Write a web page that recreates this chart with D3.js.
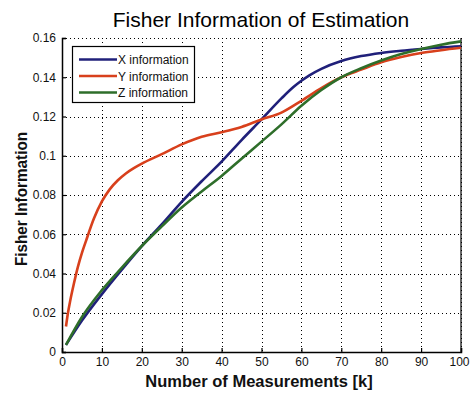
<!DOCTYPE html>
<html>
<head>
<meta charset="utf-8">
<script src="https://cdn.jsdelivr.net/npm/d3@7"></script>
<style>
  body { margin: 0; background: #fff; }
  text { font-family: "Liberation Sans", Arial, sans-serif; }
</style>
</head>
<body>
<svg id="chart" width="470" height="393"></svg>
<script>
// measurements k
var kX = [1, 5, 10, 15, 20, 25, 30, 35, 40, 45, 50, 55, 58, 60, 62, 65, 70, 75, 80, 85, 90, 95, 100];
var xInfo = [0.0036, 0.016, 0.0295, 0.042, 0.054, 0.065, 0.0765, 0.087, 0.097, 0.108, 0.1185, 0.1292, 0.135, 0.1382, 0.141, 0.1443, 0.1483, 0.1508, 0.1524, 0.1535, 0.1544, 0.1552, 0.1558];

var kY = [1, 1.5, 2, 3, 4, 5, 6, 8, 10, 12, 14, 16, 18, 20, 25, 30, 35, 40, 45, 50, 55, 60, 65, 70, 75, 80, 85, 90, 95, 100];
var yInfo = [0.013, 0.02, 0.0255, 0.035, 0.0435, 0.0505, 0.0565, 0.068, 0.0767, 0.083, 0.0875, 0.091, 0.0937, 0.096, 0.1008, 0.1058, 0.1097, 0.112, 0.1147, 0.1185, 0.122, 0.128, 0.1345, 0.14, 0.1439, 0.1476, 0.1503, 0.1524, 0.1538, 0.155];

var kZ = [1, 5, 10, 15, 20, 25, 30, 35, 40, 45, 50, 55, 60, 65, 70, 75, 80, 85, 90, 95, 100];
var zInfo = [0.0036, 0.0178, 0.0315, 0.043, 0.054, 0.064, 0.0736, 0.0818, 0.0897, 0.0985, 0.1072, 0.116, 0.1255, 0.1335, 0.14, 0.1446, 0.1485, 0.1518, 0.1544, 0.1566, 0.1583];

var xTicks = [0, 10, 20, 30, 40, 50, 60, 70, 80, 90, 100];
var yTicks = [0, 0.02, 0.04, 0.06, 0.08, 0.1, 0.12, 0.14, 0.16];
var seriesNames = ["X information", "Y information", "Z information"];
var seriesColors = ["#20207a", "#d8401c", "#2e6e2a"];

var svg = d3.select("#chart");
var m = { left: 62, right: 461, top: 38, bottom: 352 };

var x = d3.scaleLinear().domain([0, 100]).range([m.left, m.right]);
var y = d3.scaleLinear().domain([0, 0.16]).range([m.bottom, m.top]);

// grid
var grid = svg.append("g").attr("stroke", "#000").attr("stroke-width", 1)
  .attr("stroke-dasharray", "1,3").attr("shape-rendering", "crispEdges");
grid.selectAll(".gx").data(xTicks.slice(1)).enter().append("line")
  .attr("x1", d => Math.round(x(d)) + 0.5).attr("x2", d => Math.round(x(d)) + 0.5)
  .attr("y1", m.top).attr("y2", m.bottom);
grid.selectAll(".gy").data(yTicks.slice(1)).enter().append("line")
  .attr("y1", d => Math.round(y(d)) + 0.5).attr("y2", d => Math.round(y(d)) + 0.5)
  .attr("x1", m.left).attr("x2", m.right);

// axes
var xAxis = d3.axisBottom(x).tickValues(xTicks).tickSize(-4).tickPadding(5).tickFormat(d3.format("d"));
var yAxis = d3.axisLeft(y).tickValues(yTicks).tickSize(-4).tickPadding(6).tickFormat(d => d === 0 ? "0" : String(+d.toFixed(2)));

var gx = svg.append("g").attr("transform", "translate(0," + m.bottom + ")").call(xAxis);
var gy = svg.append("g").attr("transform", "translate(" + m.left + ",0)").call(yAxis);
[gx, gy].forEach(function (g) {
  g.select(".domain").attr("stroke", "#000").attr("stroke-width", 1.5);
  g.selectAll(".tick line").attr("stroke", "#000").attr("stroke-width", 1.2);
  g.selectAll(".tick text").attr("fill", "#111").style("font-size", "12px");
});
gx.selectAll(".tick text").filter(d => d === 100).attr("dx", "-2");

svg.append("line").attr("x1", m.right).attr("x2", m.right).attr("y1", m.top).attr("y2", m.bottom)
  .attr("stroke", "#000").attr("stroke-width", 1.2);

// lines
var line = d3.line().x(d => x(d[0])).y(d => y(d[1])).curve(d3.curveMonotoneX);
var series = [
  d3.zip(kX, xInfo),
  d3.zip(kY, yInfo),
  d3.zip(kZ, zInfo)
];
svg.append("g").selectAll("path").data(series).enter().append("path")
  .attr("d", line).attr("fill", "none")
  .attr("stroke", (d, i) => seriesColors[i]).attr("stroke-width", 2.6)
  .attr("stroke-linejoin", "round");

// titles
svg.append("text").attr("x", 261).attr("y", 27).attr("text-anchor", "middle")
  .style("font-size", "21px").attr("fill", "#000").text("Fisher Information of Estimation");
svg.append("text").attr("x", 259).attr("y", 387).attr("text-anchor", "middle")
  .style("font-size", "16.5px").style("font-weight", "bold").attr("fill", "#111")
  .text("Number of Measurements [k]");
svg.append("text").attr("transform", "translate(27,199) rotate(-90) scale(0.9,1)").attr("text-anchor", "middle")
  .style("font-size", "17px").style("font-weight", "bold").attr("fill", "#111")
  .text("Fisher Information");

// legend
var lg = svg.append("g");
lg.append("rect").attr("x", 72.5).attr("y", 46.5).attr("width", 122).attr("height", 56)
  .attr("fill", "#fff").attr("stroke", "#000").attr("stroke-width", 1.2);
var rows = lg.selectAll(".row").data(seriesNames).enter().append("g")
  .attr("transform", (d, i) => "translate(0," + (59.5 + i * 16.5) + ")");
rows.append("line").attr("x1", 79).attr("x2", 117).attr("y1", 0).attr("y2", 0)
  .attr("stroke", (d, i) => seriesColors[i]).attr("stroke-width", 2.6);
rows.append("text").attr("x", 118).attr("y", 4.5).style("font-size", "12px").attr("fill", "#111").text(d => d);
</script>
</body>
</html>
